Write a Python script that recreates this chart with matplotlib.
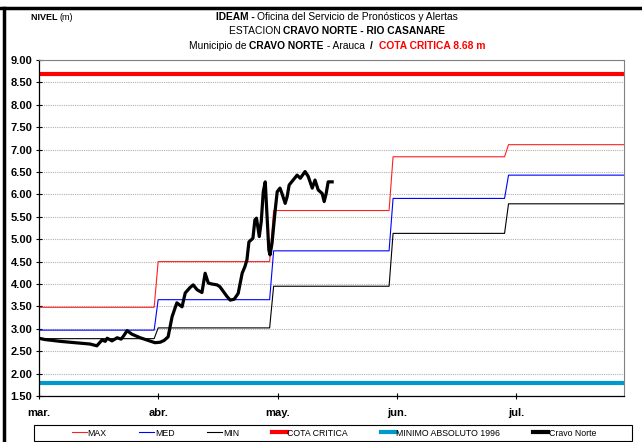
import matplotlib
matplotlib.use("Agg")
import matplotlib.pyplot as plt
from matplotlib.lines import Line2D
from matplotlib.patches import Rectangle

plt.rcParams['font.family'] = ['Liberation Sans Narrow', 'Liberation Sans', 'DejaVu Sans']

# Meses del eje X (dias desde el 1 de marzo)
month_labels = ['mar.', 'abr.', 'may.', 'jun.', 'jul.']
month_days = [0, 30, 60, 90, 120]
change_days = [29, 58, 88, 117]
last_day = 147

# Niveles mensuales historicos (m)
nivel_max = [3.48, 4.50, 5.64, 6.84, 7.11]
nivel_med = [2.97, 3.65, 4.74, 5.91, 6.43]
nivel_min = [2.78, 3.02, 3.95, 5.13, 5.79]
cota_critica = 8.68
minimo_1996 = 1.80

# Niveles observados en la estacion Cravo Norte
obs_day = [0.0, 1.6, 5.4, 9.1, 12.9, 14.6, 15.9, 16.7, 17.2, 18.4, 19.7, 20.7,
           21.4, 22.2, 23.4, 25.5, 27.5, 29.2, 30.5, 31.5, 32.5, 33.5, 34.7,
           36.0, 36.8, 38.0, 38.8, 39.8, 41.0, 41.8, 42.6, 43.5, 44.8, 45.5,
           47.3, 48.1, 49.1, 50.1, 51.1, 51.8, 52.3, 52.8, 53.8, 54.3, 54.7,
           55.4, 55.9, 56.4, 56.9, 57.4, 57.8, 58.1, 58.6, 59.4, 59.9, 60.6,
           61.1, 61.9, 62.4, 62.9, 63.9, 64.9, 65.7, 66.9, 67.7, 68.7, 69.4,
           70.2, 71.2, 71.7, 72.2, 72.7, 73.7]
obs_nivel = [2.79, 2.76, 2.72, 2.69, 2.66, 2.62, 2.75, 2.72, 2.79, 2.73, 2.80,
             2.77, 2.85, 2.96, 2.88, 2.80, 2.74, 2.69, 2.70, 2.74, 2.82, 3.27,
             3.58, 3.49, 3.80, 3.92, 3.98, 3.87, 3.81, 4.24, 4.02, 4.00, 3.98,
             3.94, 3.72, 3.64, 3.66, 3.79, 4.24, 4.39, 4.54, 4.94, 5.02, 5.43,
             5.47, 5.06, 5.40, 6.06, 6.28, 5.43, 4.76, 4.65, 4.91, 5.65, 6.06,
             6.14, 6.02, 5.80, 5.95, 6.21, 6.32, 6.43, 6.36, 6.51, 6.40, 6.14,
             6.32, 6.10, 6.02, 5.84, 6.02, 6.28, 6.28]

W, H = 642, 442


def step_series(values):
    xs, ys = [0], [values[0]]
    for d, v0, v1 in zip(change_days, values[:-1], values[1:]):
        xs += [d, d + 1]
        ys += [v0, v1]
    xs.append(last_day)
    ys.append(values[-1])
    return xs, ys


def draw_runs(fig, xc, yc, runs, size):
    # texto con partes en negrilla, centrado en xc (pixeles)
    renderer = fig.canvas.get_renderer()
    texts = []
    for s, weight, color in runs:
        t = fig.text(0, 1 - yc / H, s, fontsize=size, fontweight=weight,
                     color=color, ha='left', va='center')
        texts.append(t)
    widths = [t.get_window_extent(renderer).width for t in texts]
    x = xc - sum(widths) / 2
    for t, w in zip(texts, widths):
        t.set_x(x / W)
        x += w


fig = plt.figure(figsize=(W / 100, H / 100), dpi=100)
ax = fig.add_axes([38.7 / W, 1 - 396 / H, (624 - 38.7) / W, (396 - 60) / H])

x, y = step_series(nivel_max)
ax.plot(x, y, color='#ff2020', lw=0.8)
x, y = step_series(nivel_med)
ax.plot(x, y, color='#0000ff', lw=0.8)
x, y = step_series(nivel_min)
ax.plot(x, y, color='black', lw=0.8)
ax.axhline(cota_critica, color='#ff0000', lw=3)
ax.axhline(minimo_1996, color='#0099cc', lw=3)
ax.plot(obs_day, obs_nivel, color='black', lw=2.3, solid_joinstyle='round')

ax.set_xlim(0, last_day)
ax.set_ylim(1.5, 9.0)
ax.set_yticks([1.5 + 0.5 * i for i in range(16)])
ax.set_yticklabels(['%.2f' % (1.5 + 0.5 * i) for i in range(16)],
                   fontweight='bold', fontsize=8, family='Liberation Sans')
ax.set_xticks(month_days)
ax.set_xticklabels(month_labels, fontweight='bold', fontsize=8, family='Liberation Sans')
ax.tick_params(axis='y', direction='inout', length=5, width=0.8, pad=2)
ax.tick_params(axis='x', direction='inout', length=5, width=0.8, pad=6)
ax.grid(axis='y', color='#b0b0b0', linestyle=(0, (1, 1)), lw=0.8)
ax.set_axisbelow(True)
for side in ['top', 'right']:
    ax.spines[side].set_color('#808080')
for side in ['left', 'bottom']:
    ax.spines[side].set_color('black')
    ax.spines[side].set_linewidth(0.9)

draw_runs(fig, 337, 17, [('IDEAM - ', 'bold', 'black'),
                         ('Oficina del Servicio de Pronósticos y Alertas', 'normal', 'black')], 7.4)
draw_runs(fig, 337, 31, [('ESTACION ', 'normal', 'black'),
                         ('CRAVO NORTE - RIO CASANARE', 'bold', 'black')], 7.4)
draw_runs(fig, 337, 46, [('Municipio de ', 'normal', 'black'),
                         ('CRAVO NORTE', 'bold', 'black'),
                         (' - Arauca  ', 'normal', 'black'),
                         ('/  ', 'bold', 'black'),
                         ('COTA CRITICA 8.68 m', 'bold', '#ff0000')], 7.4)
draw_runs(fig, 52, 17, [('NIVEL ', 'bold', 'black'), ('(m)', 'normal', 'black')], 6.5)

# leyenda
handles = [Line2D([], [], color='#ff2020', lw=0.8),
           Line2D([], [], color='#0000ff', lw=0.8),
           Line2D([], [], color='black', lw=0.8),
           Line2D([], [], color='#ff0000', lw=3),
           Line2D([], [], color='#0099cc', lw=3),
           Line2D([], [], color='black', lw=3)]
labels = ['MAX', 'MED', 'MIN', 'COTA CRITICA', 'MINIMO ABSOLUTO 1996', 'Cravo Norte']
fig.legend(handles, labels, loc='center', ncol=6, mode='expand', frameon=False,
           bbox_to_anchor=(72 / W, 1 - 441 / H, (596 - 72) / W, 16 / H),
           fontsize=6.3, handlelength=1.7, handletextpad=0.1,
           borderpad=0, borderaxespad=0)
fig.add_artist(Rectangle((34 / W, 1 - 441 / H), (632 - 34) / W, 16 / H,
                         transform=fig.transFigure, fill=False,
                         edgecolor='black', lw=0.8))

# marco exterior
fig.add_artist(Line2D([0, 1], [1 - 8 / H] * 2, color='black', lw=2.5,
                      transform=fig.transFigure))
fig.add_artist(Line2D([4 / W] * 2, [0, 1 - 8 / H], color='black', lw=2.5,
                      transform=fig.transFigure))

fig.savefig('out.png', dpi=100)
